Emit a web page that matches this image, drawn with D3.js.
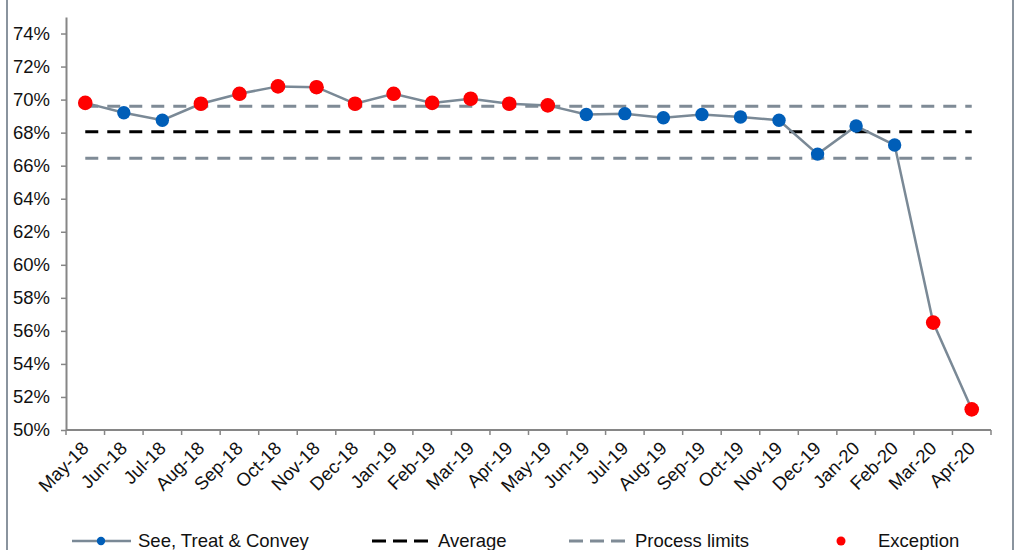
<!DOCTYPE html>
<html>
<head>
<meta charset="utf-8">
<script src="https://cdn.jsdelivr.net/npm/d3@7"></script>
<style>
  html, body { margin: 0; padding: 0; background: #fff; }
  svg { display: block; font-family: "Liberation Sans", Arial, sans-serif; }
</style>
</head>
<body>
<svg id="chart" width="1029" height="550"></svg>
<script>
// Monthly categories
const months = ["May-18","Jun-18","Jul-18","Aug-18","Sep-18","Oct-18","Nov-18","Dec-18",
  "Jan-19","Feb-19","Mar-19","Apr-19","May-19","Jun-19","Jul-19","Aug-19","Sep-19","Oct-19",
  "Nov-19","Dec-19","Jan-20","Feb-20","Mar-20","Apr-20"];

// See, Treat & Convey rate (%)
const seeTreatConvey = [69.8, 69.2, 68.75, 69.75, 70.35, 70.8, 70.75, 69.75, 70.35, 69.8,
  70.05, 69.75, 69.65, 69.1, 69.15, 68.9, 69.1, 68.95, 68.75, 66.7, 68.4, 67.25, 56.5, 51.25];

// Control values (%)
const average = 68.05;
const upperLimit = 69.6;
const lowerLimit = 66.45;

// Months flagged as exceptions
const exceptionMonths = ["May-18","Aug-18","Sep-18","Oct-18","Nov-18","Dec-18","Jan-19",
  "Feb-19","Mar-19","Apr-19","May-19","Mar-20","Apr-20"];

// Y axis tick values (%)
const yTicks = [50, 52, 54, 56, 58, 60, 62, 64, 66, 68, 70, 72, 74];

const svg = d3.select("#chart");
const axisColor = "#868686";
const lineColor = "#7a8996";
const blue = "#005EB8";
const red = "#FF0000";
const fontSize = "18.5px";

// outer frame
svg.append("rect")
  .attr("x", 7).attr("y", -10).attr("width", 1006).attr("height", 580)
  .attr("fill", "none").attr("stroke", "#8a949e").attr("stroke-width", 2);

const x = d3.scaleBand().domain(months).range([66, 991]).paddingInner(0).paddingOuter(0);
const y = d3.scaleLinear().domain([50, 75]).range([430, 17]);
const cx = d => x(d) + x.bandwidth() / 2;

// Y axis
const yAxis = svg.append("g")
  .attr("transform", "translate(66,0)")
  .call(d3.axisLeft(y).tickValues(yTicks).tickSize(5).tickSizeOuter(0).tickPadding(11)
    .tickFormat(d => d + "%"));
yAxis.select(".domain").attr("stroke", axisColor).attr("stroke-width", 2);
yAxis.selectAll(".tick line").attr("stroke", axisColor).attr("stroke-width", 1.5);
yAxis.selectAll(".tick text").attr("fill", "#111").style("font-size", fontSize)
  .style("font-family", "'Liberation Sans', Arial, sans-serif");

// X axis line and category boundary ticks
const xAxis = svg.append("g");
xAxis.append("line")
  .attr("x1", x.range()[0]).attr("x2", x.range()[1])
  .attr("y1", y(50)).attr("y2", y(50))
  .attr("stroke", axisColor).attr("stroke-width", 2);
const bounds = months.map(d => x(d)).concat([x.range()[1]]);
xAxis.selectAll("line.tick").data(bounds).enter().append("line")
  .attr("class", "tick")
  .attr("x1", d => d).attr("x2", d => d)
  .attr("y1", y(50)).attr("y2", y(50) + 5)
  .attr("stroke", axisColor).attr("stroke-width", 1.5);
xAxis.selectAll("text").data(months).enter().append("text")
  .attr("transform", d => `translate(${cx(d)},${y(50) + 15}) rotate(-45)`)
  .attr("text-anchor", "end")
  .attr("dy", "0.35em")
  .attr("fill", "#111")
  .style("font-size", fontSize)
  .text(d => d);

// Process limits and average
const plotLine = (val, color) => svg.append("line")
  .attr("x1", cx(months[0])).attr("x2", cx(months[months.length - 1]))
  .attr("y1", y(val)).attr("y2", y(val))
  .attr("stroke", color).attr("stroke-width", 3)
  .attr("stroke-dasharray", "13,9");
plotLine(upperLimit, "#7f8b96");
plotLine(lowerLimit, "#7f8b96");
plotLine(average, "#000");

// Series line
const line = d3.line().x((d, i) => cx(months[i])).y(d => y(d));
svg.append("path")
  .datum(seeTreatConvey)
  .attr("d", line)
  .attr("fill", "none")
  .attr("stroke", lineColor)
  .attr("stroke-width", 2.5);

// Series markers
svg.append("g").selectAll("circle").data(seeTreatConvey).enter().append("circle")
  .attr("cx", (d, i) => cx(months[i]))
  .attr("cy", d => y(d))
  .attr("r", 6.7)
  .attr("fill", blue);

// Exception markers
const exceptionData = months.map((m, i) => ({ m, v: seeTreatConvey[i] }))
  .filter(d => exceptionMonths.includes(d.m));
svg.append("g").selectAll("circle").data(exceptionData).enter().append("circle")
  .attr("cx", d => cx(d.m))
  .attr("cy", d => y(d.v))
  .attr("r", 7.3)
  .attr("fill", red);

// Legend
const legendY = 541;
const lg = svg.append("g");
lg.append("line").attr("x1", 72).attr("x2", 131).attr("y1", legendY).attr("y2", legendY)
  .attr("stroke", lineColor).attr("stroke-width", 2.5);
lg.append("circle").attr("cx", 101).attr("cy", legendY).attr("r", 4.2).attr("fill", blue);
lg.append("text").attr("x", 138).attr("y", 547).style("font-size", fontSize).attr("fill", "#111")
  .text("See, Treat & Convey");

lg.append("line").attr("x1", 372).attr("x2", 428).attr("y1", legendY).attr("y2", legendY)
  .attr("stroke", "#000").attr("stroke-width", 3).attr("stroke-dasharray", "14,7");
lg.append("text").attr("x", 438).attr("y", 547).style("font-size", fontSize).attr("fill", "#111")
  .text("Average");

lg.append("line").attr("x1", 569).attr("x2", 625).attr("y1", legendY).attr("y2", legendY)
  .attr("stroke", "#7f8b96").attr("stroke-width", 3).attr("stroke-dasharray", "14,7");
lg.append("text").attr("x", 635).attr("y", 547).style("font-size", fontSize).attr("fill", "#111")
  .text("Process limits");

lg.append("circle").attr("cx", 841).attr("cy", legendY).attr("r", 4.5).attr("fill", red);
lg.append("text").attr("x", 878).attr("y", 547).style("font-size", fontSize).attr("fill", "#111")
  .text("Exception");
</script>
</body>
</html>
